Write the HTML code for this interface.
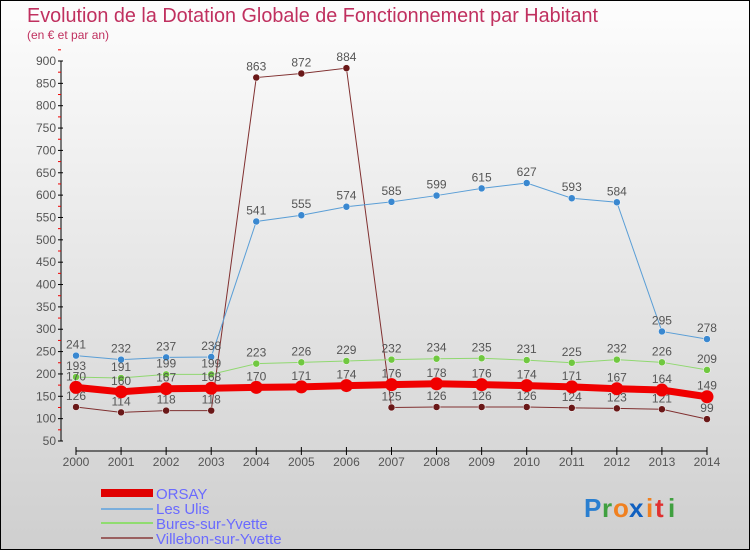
<!DOCTYPE html>
<html><head><meta charset="utf-8"><style>
body{margin:0}
#wrap{position:relative;width:748px;height:548px;border:1px solid #000;background:linear-gradient(#fdfdfd,#cfcfcf);font-family:"Liberation Sans",sans-serif;overflow:hidden}
</style></head><body>
<div id="wrap">
<svg id="svg" width="748" height="548" xmlns="http://www.w3.org/2000/svg" style="position:absolute;left:0;top:0">
<text x="26" y="21" font-size="20" fill="#c0305f" textLength="571" lengthAdjust="spacingAndGlyphs">Evolution de la Dotation Globale de Fonctionnement par Habitant</text>
<text x="26" y="38" font-size="12" fill="#c0305f">(en € et par an)</text>
<g id="axes"></g><g id="series"></g>
<g>
<rect x="100" y="488" width="52" height="8" fill="#e00000"/>
<text x="155" y="498" font-size="15" fill="#6a6aff">ORSAY</text>
<rect x="100" y="507" width="52" height="2" fill="#7aaedc"/>
<text x="155" y="513" font-size="15" fill="#6a6aff">Les Ulis</text>
<rect x="100" y="521" width="52" height="2" fill="#90dc70"/>
<text x="155" y="528" font-size="15" fill="#6a6aff">Bures-sur-Yvette</text>
<rect x="100" y="536" width="52" height="2" fill="#9a6060"/>
<text x="155" y="543" font-size="15" fill="#6a6aff">Villebon-sur-Yvette</text>
</g>
<g font-size="26" font-weight="bold" font-family="Liberation Sans,sans-serif">
<text x="583" y="516" fill="#2a7fd0">P</text><text x="601" y="516" fill="#40a040">r</text><text x="612" y="516" fill="#f08020">o</text><text x="628" y="516" fill="#1060c0">x</text><text x="645" y="516" fill="#f08020">i</text><text x="654" y="516" fill="#e03030">t</text><text x="667" y="516" fill="#40a040">i</text>
</g>
</svg>
</div>
<script>
const years=[2000,2001,2002,2003,2004,2005,2006,2007,2008,2009,2010,2011,2012,2013,2014];
const yTicks=[50,100,150,200,250,300,350,400,450,500,550,600,650,700,750,800,850,900];
const orsay=[170,160,167,168,170,171,174,176,178,176,174,171,167,164,149];
const lesUlis=[241,232,237,238,541,555,574,585,599,615,627,593,584,295,278];
const bures=[193,191,199,199,223,226,229,232,234,235,231,225,232,226,209];
const villebon=[126,114,118,118,863,872,884,125,126,126,126,124,123,121,99];
const NS="http://www.w3.org/2000/svg";
const X=i=>75+i*45.07;
const Y=v=>440-(v-50)*380/850;
function mk(t,a,p){const e=document.createElementNS(NS,t);for(const k in a)e.setAttribute(k,a[k]);p.appendChild(e);return e;}
const ax=document.getElementById('axes');
let l=mk('line',{x1:60,y1:Y(900),x2:60,y2:440,stroke:'#000'},ax);


yTicks.forEach(v=>{
 mk('line',{x1:57,y1:Y(v),x2:62,y2:Y(v),stroke:'#000'},ax);
 mk('line',{x1:57,y1:Y(v+25),x2:60,y2:Y(v+25),stroke:'#e00'},ax);
 const t=mk('text',{x:55,y:Y(v)+4,'font-size':12,'text-anchor':'end',fill:'#555'},ax);t.textContent=v;
 
 
});
l=mk('line',{x1:X(0),y1:450,x2:X(14),y2:450,stroke:'#000'},ax);


years.forEach((y,i)=>{
 mk('line',{x1:X(i),y1:446,x2:X(i),y2:454,stroke:'#000'},ax);
 const t=mk('text',{x:X(i),y:465,'font-size':12,'text-anchor':'middle',fill:'#555'},ax);t.textContent=y;
 
 
});
const sg=document.getElementById('series');
function series(name,vals,color,dot,w,r){
 const g=mk('g',{},sg);
 
 
 mk('polyline',{points:vals.map((v,i)=>X(i)+','+Y(v)).join(' '),fill:'none',stroke:color,'stroke-width':w},g);
 vals.forEach((v,i)=>{
  const c=mk('circle',{cx:X(i),cy:Y(v),r:r,fill:dot,stroke:'#fff','stroke-width':r>5?0:0.5},g);
  
  
  const t=mk('text',{x:X(i),y:Y(v)-7,'font-size':12,'text-anchor':'middle',fill:'#555'},g);t.textContent=v;
  
  
 });
}
series('villebon-series',villebon,'#803030','#6a1818',1,3.5);
series('les-ulis-series',lesUlis,'#5a9ed6','#3a88d0',1,3.5);
series('bures-series',bures,'#90d870','#70c840',1,3.5);
series('orsay-series',orsay,'#f00000','#f00000',7,6.5);
</script>
</body></html>
